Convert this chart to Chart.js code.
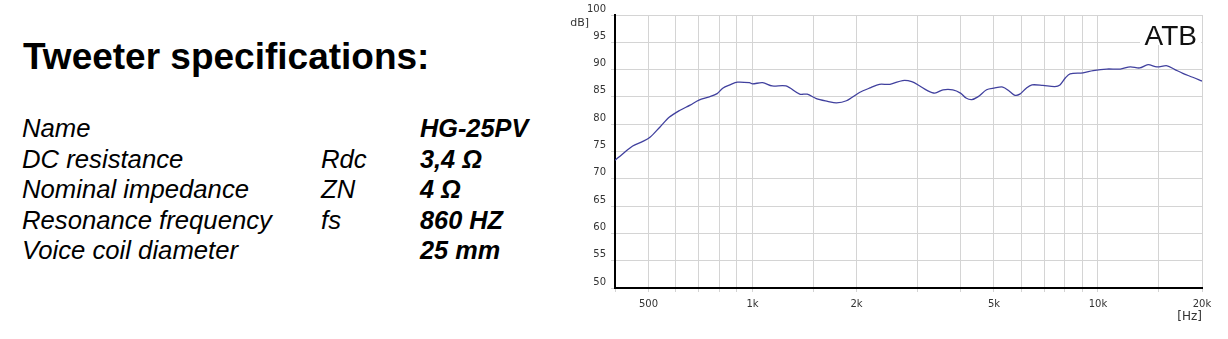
<!DOCTYPE html>
<html>
<head>
<meta charset="utf-8">
<script src="https://cdn.jsdelivr.net/npm/chart.js@4.4.0/dist/chart.umd.min.js"></script>
<style>
  body { margin: 0; background: #fff; width: 1228px; height: 339px; overflow: hidden; position: relative; font-family: 'Liberation Sans', Arial, sans-serif; color: #000; }
  .title { position: absolute; left: 23px; top: 36px; font-size: 37px; font-weight: bold; line-height: normal; white-space: nowrap; }
  .col { position: absolute; top: 113px; font-size: 25.7px; font-style: italic; line-height: 30.5px; white-space: nowrap; }
  .col.val { font-weight: bold; font-size: 25.3px; }
  #wrap { position: absolute; left: 560px; top: 0; width: 668px; height: 339px; }
</style>
</head>
<body>
<div class="title">Tweeter specifications:</div>
<div class="col" style="left:22px">Name<br>DC resistance<br>Nominal impedance<br>Resonance frequency<br>Voice coil diameter</div>
<div class="col" style="left:321px"><br>Rdc<br>ZN<br>fs<br></div>
<div class="col val" style="left:420px">HG-25PV<br>3,4 Ω<br>4 Ω<br>860 HZ<br>25 mm</div>
<div id="wrap"><canvas id="myChart" width="668" height="339"></canvas></div>
<script>
var freqHz = [400, 420, 450, 480, 505, 540, 575, 615, 660, 700, 750, 790, 820, 860, 905, 980, 1000, 1070, 1140, 1250, 1370, 1440, 1530, 1650, 1750, 1870, 2040, 2200, 2330, 2500, 2720, 2890, 3050, 3200, 3370, 3560, 3800, 4000, 4150, 4310, 4490, 4760, 5000, 5300, 5550, 5750, 5940, 6200, 6440, 6930, 7500, 7760, 8050, 8300, 9050, 9680, 10600, 11600, 12400, 13200, 13960, 14800, 15850, 16700, 17600, 18800, 20000];
var splDb = [73.4, 74.5, 76.0, 76.8, 77.6, 79.5, 81.3, 82.5, 83.5, 84.4, 85.0, 85.6, 86.6, 87.2, 87.7, 87.6, 87.4, 87.6, 87.0, 87.0, 85.5, 85.5, 84.7, 84.2, 83.9, 84.3, 85.8, 86.7, 87.3, 87.3, 88.0, 87.8, 87.0, 86.2, 85.7, 86.3, 86.3, 85.7, 84.8, 84.5, 85.0, 86.3, 86.6, 86.8, 86.0, 85.3, 85.5, 86.6, 87.2, 87.1, 86.9, 87.2, 88.5, 89.2, 89.4, 89.8, 90.1, 90.1, 90.5, 90.3, 90.9, 90.5, 90.7, 90.0, 89.3, 88.6, 87.9];
var gridHz = [400, 500, 600, 700, 800, 900, 1000, 1500, 2000, 3000, 4000, 5000, 6000, 7000, 8000, 9000, 10000, 15000, 20000];
var labelHz = [500, 1000, 2000, 5000, 10000, 20000];
var labelText = ['500', '1k', '2k', '5k', '10k', '20k'];

var points = freqHz.map(function (f, i) { return { x: f, y: splDb[i] }; });

var extras = {
    id: 'extras',
    afterDraw: function (chart) {
        var c = chart.ctx, a = chart.chartArea;
        c.save();
        c.fillStyle = '#333';
        c.font = '11px "DejaVu Sans"';
        c.textAlign = 'right';
        c.textBaseline = 'middle';
        c.fillText('dB]', a.left - 26, 23);
        c.font = '12px "DejaVu Sans"';
        c.fillText('[Hz]', a.right, a.bottom + 29);
        c.fillStyle = '#fff';
        c.fillRect(a.right - 62, a.top + 1, 61, 29);
        c.fillStyle = '#111';
        c.font = '28px "Liberation Sans"';
        c.textBaseline = 'alphabetic';
        c.fillText('ATB', a.right - 5, a.top + 30);
        c.restore();
    }
};

var ctx = document.getElementById('myChart').getContext('2d');
var myChart = new Chart(ctx, {
    type: 'line',
    data: {
        datasets: [{
            label: 'ATB',
            data: points,
            borderColor: '#40409e',
            borderWidth: 1.3,
            pointRadius: 0,
            tension: 0.3,
            fill: false
        }]
    },
    options: {
        responsive: false,
        animation: false,
        layout: { padding: { top: 15, right: 26, left: 0, bottom: 0 } },
        plugins: { legend: { display: false }, tooltip: { enabled: false } },
        scales: {
            x: {
                type: 'logarithmic',
                min: 400,
                max: 20000,
                afterBuildTicks: function (s) { s.ticks = gridHz.map(function (v) { return { value: v }; }); },
                afterFit: function (s) { s.height = 51; s.paddingLeft = 0; s.paddingRight = 0; },
                ticks: {
                    autoSkip: false,
                    maxRotation: 0,
                    padding: 6,
                    color: '#333',
                    font: { family: 'DejaVu Sans', size: 10 },
                    callback: function (v) {
                        var i = labelHz.indexOf(v);
                        return i >= 0 ? labelText[i] : '';
                    }
                },
                grid: { color: '#d4d4d4', lineWidth: 1, tickLength: 4 },
                border: { color: '#000', width: 2 }
            },
            y: {
                min: 50,
                max: 100,
                afterFit: function (s) { s.width = 55; s.paddingTop = 0; s.paddingBottom = 0; },
                ticks: {
                    stepSize: 5,
                    padding: 5,
                    labelOffset: -6,
                    color: '#333',
                    font: { family: 'DejaVu Sans', size: 10 }
                },
                grid: { color: '#d4d4d4', lineWidth: 1, tickLength: 4 },
                border: { color: '#000', width: 2 }
            }
        }
    },
    plugins: [extras]
});
</script>
</body>
</html>
